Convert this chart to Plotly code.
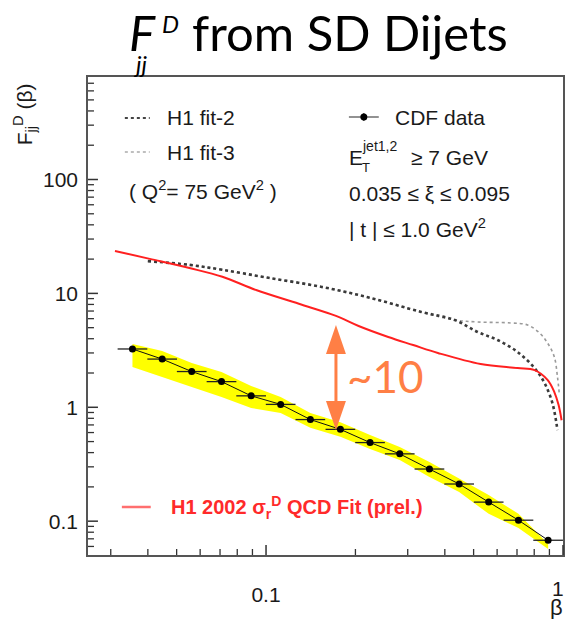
import math
import plotly.graph_objects as go

# ---------------- data ----------------
beta_cdf = [0.0355, 0.0447, 0.0562, 0.0708, 0.0891, 0.112, 0.141, 0.178,
            0.224, 0.282, 0.355, 0.447, 0.562, 0.708, 0.891]
f_cdf = [3.25, 2.65, 2.06, 1.68, 1.26, 1.06, 0.78, 0.64,
         0.49, 0.39, 0.287, 0.212, 0.147, 0.102, 0.068]
band_hi = [3.60, 3.12, 2.45, 2.04, 1.54, 1.23, 0.89, 0.74,
           0.57, 0.448, 0.331, 0.239, 0.170, 0.116, 0.063]
band_lo = [2.26, 1.85, 1.51, 1.23, 0.985, 0.89, 0.66, 0.55,
           0.43, 0.344, 0.244, 0.180, 0.116, 0.087, 0.057]
bin_half_decades = 0.05  # half bin width in decades of beta

beta_red = [0.0310, 0.0406, 0.0552, 0.0713, 0.0926, 0.129, 0.172, 0.205,
            0.258, 0.313, 0.379, 0.528, 0.703, 0.802, 0.887, 0.935, 0.966, 0.989]
f_red = [23.6, 20.1, 16.7, 14.0, 10.7, 8.1, 6.34, 5.17,
         4.14, 3.52, 3.0, 2.40, 2.21, 2.12, 1.74, 1.36, 1.05, 0.77]

beta_fit2 = [0.040, 0.0552, 0.0713, 0.102, 0.154, 0.226, 0.333, 0.432,
             0.516, 0.602, 0.703, 0.802, 0.867, 0.921, 0.958]
f_fit2 = [19.2, 17.8, 16.1, 13.7, 11.4, 9.1, 6.87, 5.84,
          4.58, 3.90, 3.06, 2.21, 1.63, 1.09, 0.63]

beta_fit3 = [0.040, 0.0552, 0.0713, 0.102, 0.154, 0.226, 0.333, 0.432,
             0.516, 0.667, 0.760, 0.834, 0.887, 0.935, 0.958, 0.972]
f_fit3 = [19.2, 17.8, 16.1, 13.7, 11.4, 9.1, 6.87, 5.84,
          5.61, 5.50, 5.28, 4.49, 3.67, 2.77, 1.85, 1.30]

x_range_log = [-1.5995, 0.0]
y_range_log = [-1.297, 2.90]

x_major_ticks = [0.1, 1]
x_major_labels = ["0.1", ""]
x_minor_ticks = [0.03, 0.04, 0.05, 0.06, 0.07, 0.08, 0.09,
                 0.2, 0.3, 0.4, 0.5, 0.6, 0.7, 0.8, 0.9]
y_major_ticks = [0.1, 1, 10, 100]
y_major_labels = ["0.1", "1", "10", "100"]
y_minor_ticks = [0.06, 0.07, 0.08, 0.09,
                 0.2, 0.3, 0.4, 0.5, 0.6, 0.7, 0.8, 0.9,
                 2, 3, 4, 5, 6, 7, 8, 9,
                 20, 30, 40, 50, 60, 70, 80, 90,
                 200, 300, 400, 500, 600, 700]

# ---------------- layout constants ----------------
W, H = 565, 619
ML, MR, MT, MB = 88, 0, 77, 64
PW, PH = W - ML - MR, H - MT - MB
SANS = "Liberation Sans"
TITLE_FONT = "Lato"
ORANGE = "#FF7F45"
RED = "#FF2A2A"
AXC = "#333333"
MAJOR_LEN, MINOR_LEN = 10, 6


def px(x):
    return (x - ML) / PW


def py(y):
    return (H - MB - y) / PH


def ann(text, x, y, size, color="#1a1a1a", family=SANS, xanchor="center",
        yanchor="middle", **kw):
    return dict(text=text, x=px(x), y=py(y), xref="paper", yref="paper",
                showarrow=False, xanchor=xanchor, yanchor=yanchor,
                font=dict(size=size, color=color, family=family), **kw)


def pline(x0, y0, x1, y1, color, width, dash="solid"):
    return dict(type="line", xref="paper", yref="paper",
                x0=px(x0), y0=py(y0), x1=px(x1), y1=py(y1),
                line=dict(color=color, width=width, dash=dash))


def ptri(pts, color):
    path = "M " + " L ".join(f"{px(a):.5f},{py(b):.5f}" for a, b in pts) + " Z"
    return dict(type="path", xref="paper", yref="paper", path=path,
                fillcolor=color, line=dict(color=color, width=0))


def xtick(v, length, width):
    f = (math.log10(v) - x_range_log[0]) / (x_range_log[1] - x_range_log[0])
    return dict(type="line", xref="paper", yref="paper", x0=f, x1=f,
                y0=0, y1=length / PH, line=dict(color=AXC, width=width),
                layer="above")


def ytick(v, length, width):
    f = (math.log10(v) - y_range_log[0]) / (y_range_log[1] - y_range_log[0])
    return dict(type="line", xref="paper", yref="paper", y0=f, y1=f,
                x0=0, x1=length / PW, line=dict(color=AXC, width=width),
                layer="above")


fig = go.Figure()

# yellow uncertainty band
fig.add_trace(go.Scatter(
    x=beta_cdf + beta_cdf[::-1], y=band_hi + band_lo[::-1],
    fill="toself", fillcolor="#FFFF00", mode="lines",
    line=dict(width=0, color="#FFFF00"), hoverinfo="skip", showlegend=False))

# H1 fit-3 (light dotted)
fig.add_trace(go.Scatter(
    x=beta_fit3, y=f_fit3, mode="lines", line_shape="spline",
    line=dict(color="#9a9a9a", width=1.6, dash="dot"), showlegend=False))

# H1 fit-2 (dark dotted)
fig.add_trace(go.Scatter(
    x=beta_fit2, y=f_fit2, mode="lines", line_shape="spline",
    line=dict(color="#3a3a3a", width=2.6, dash="dot"), showlegend=False))

# H1 2002 QCD fit (red)
fig.add_trace(go.Scatter(
    x=beta_red, y=f_red, mode="lines", line_shape="spline",
    line=dict(color="#FF2020", width=2), showlegend=False))

# CDF data
err_plus = [b * (10 ** bin_half_decades - 1) for b in beta_cdf]
err_minus = [b * (1 - 10 ** (-bin_half_decades)) for b in beta_cdf]
fig.add_trace(go.Scatter(
    x=beta_cdf, y=f_cdf, mode="lines+markers",
    line=dict(color="#111111", width=1),
    marker=dict(color="black", size=7),
    error_x=dict(type="data", symmetric=False, array=err_plus,
                 arrayminus=err_minus, color="#222222", thickness=1.3, width=0),
    showlegend=False))

base = dict(type="log", showgrid=False, zeroline=False, ticks="",
            tickmode="array", showline=True, linecolor="#555555",
            linewidth=1.5, mirror=True,
            tickfont=dict(family=SANS, size=21, color="#1a1a1a"))

fig.update_layout(
    width=W, height=H,
    margin=dict(l=ML, r=MR, t=MT, b=MB),
    paper_bgcolor="white", plot_bgcolor="white",
    xaxis=dict(base, range=x_range_log, tickvals=x_major_ticks,
               ticktext=x_major_labels, ticklabelstandoff=20),
    yaxis=dict(base, range=y_range_log, tickvals=y_major_ticks,
               ticktext=y_major_labels, ticklabelstandoff=4),
    showlegend=False,
)

annotations = [
    # title
    ann("<i>F</i>", 143, 32, 49, color="black", family=TITLE_FONT),
    ann("<i>D</i>", 171, 23, 24, color="black", family=TITLE_FONT),
    ann("<i>jj</i>", 140, 63, 24, color="black", family=TITLE_FONT),
    ann("from SD Dijets", 190, 32, 49, color="black", family=TITLE_FONT,
        xanchor="left"),
    # axis titles
    ann("F<sub>jj</sub><sup>D</sup> (β)", 25, 114, 21, textangle=-90),
    ann("1", 560, 588, 21),
    ann("β", 558, 607, 22),
    # left legend
    ann("H1 fit-2", 165, 118, 21, xanchor="left"),
    ann("H1 fit-3", 165, 152, 21, xanchor="left"),
    ann("( Q<sup>2</sup>= 75 GeV<sup>2</sup> )", 127, 190, 21, xanchor="left"),
    # right text block
    ann("CDF data", 394, 117, 21, xanchor="left"),
    ann("E", 348, 157, 21, xanchor="left"),
    ann("jet1,2", 361, 146, 14, xanchor="left"),
    ann("T", 361, 167, 13, xanchor="left"),
    ann("≥ 7 GeV", 410, 157, 21, xanchor="left"),
    ann("0.035 ≤ ξ ≤ 0.095", 348, 193, 21, xanchor="left"),
    ann("| t | ≤ 1.0 GeV<sup>2</sup>", 348, 228, 21, xanchor="left"),
    # red fit legend
    ann("<b>H1 2002 σ<sub>r</sub><sup>D</sup> QCD Fit (prel.)</b>", 169, 507, 20,
        color=RED, xanchor="left"),
    # ~10
    ann("~10", 387, 376, 44, color=ORANGE, family=TITLE_FONT),
]
fig.update_layout(annotations=annotations)

shapes = [
    pline(125, 118, 150, 118, "#444444", 2.2, "dot"),
    pline(125, 152, 150, 152, "#aaaaaa", 1.6, "dot"),
    pline(350, 117, 380, 117, "#777777", 1.6),
    pline(365, 113, 365, 121, "#333333", 1.2),
    dict(type="circle", xref="paper", yref="paper",
         x0=px(361.5), x1=px(368.5), y0=py(120.5), y1=py(113.5),
         fillcolor="black", line=dict(width=0)),
    pline(122, 507, 151, 507, "#FF6F6F", 2.5),
    # orange double arrow
    pline(337, 345, 337, 410, ORANGE, 3),
    ptri([(337, 325), (327, 354), (347, 354)], ORANGE),
    ptri([(337, 430), (327, 401), (347, 401)], ORANGE),
]
# inside tick marks (positions taken from the tick arrays and axis ranges)
shapes += [xtick(v, MAJOR_LEN, 1.5) for v in x_major_ticks]
shapes += [xtick(v, MINOR_LEN, 1.3) for v in x_minor_ticks]
shapes += [ytick(v, MAJOR_LEN, 1.5) for v in y_major_ticks]
shapes += [ytick(v, MINOR_LEN, 1.3) for v in y_minor_ticks]
fig.update_layout(shapes=shapes)

fig.write_html("out.html")
